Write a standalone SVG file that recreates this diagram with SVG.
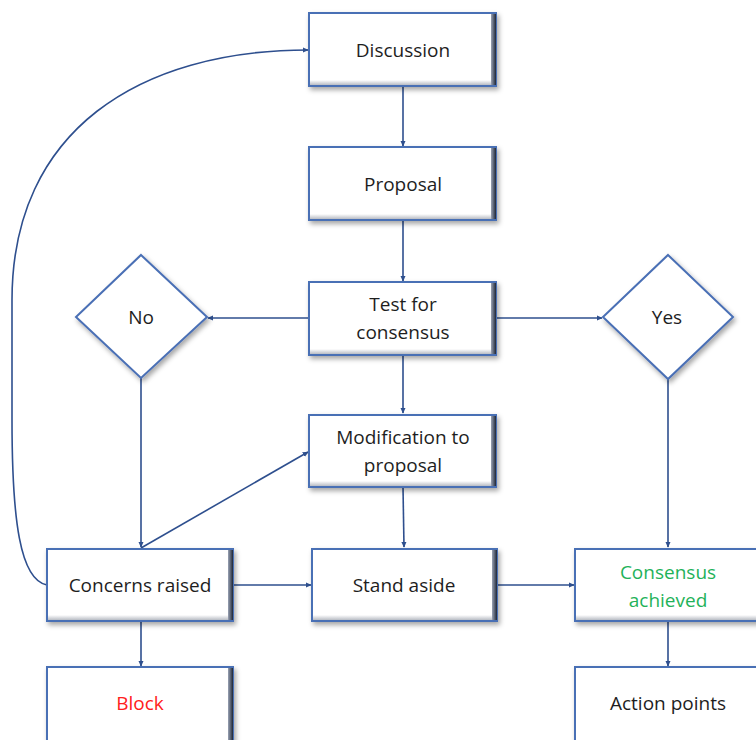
<svg xmlns="http://www.w3.org/2000/svg" width="756" height="740" viewBox="0 0 756 740">
<style>
.box{fill:#fff;stroke:#4a6fb5;stroke-width:2;filter:url(#sh)}
.dia{fill:#fff;stroke:#4a6fb5;stroke-width:2;filter:url(#sh)}
.bev{fill:url(#rg)}
.bevb{fill:url(#bg)}
text{font-family:"Open Sans","Liberation Sans",sans-serif;font-size:19px;fill:#1e1e1e;text-anchor:middle}
.c{fill:none;stroke:#2e4f8e;stroke-width:1.6}
</style>
<defs>
<filter id="sh" x="-10%" y="-10%" width="130%" height="140%">
<feDropShadow dx="2" dy="3" stdDeviation="2.5" flood-color="#000" flood-opacity="0.35"/>
</filter>
<linearGradient id="rg" x1="0" y1="0" x2="1" y2="0">
<stop offset="0" stop-color="#9aa3b5"/><stop offset="1" stop-color="#1d2535"/>
</linearGradient>
<linearGradient id="bg" x1="0" y1="0" x2="0" y2="1">
<stop offset="0" stop-color="#ffffff"/><stop offset="1" stop-color="#b8bcc4"/>
</linearGradient>
<marker id="ah" viewBox="0 0 8 8" refX="7" refY="4" markerWidth="6" markerHeight="6" orient="auto" markerUnits="userSpaceOnUse">
<path d="M0,0.5 L8,4 L0,7.5 z" fill="#2e4f8e"/>
</marker>
</defs>

<g id="connectors">
<path class="c" d="M403,86 L403,146" marker-end="url(#ah)"/>
<path class="c" d="M403,220 L403,281" marker-end="url(#ah)"/>
<path class="c" d="M309,318 L208,318" marker-end="url(#ah)"/>
<path class="c" d="M495,318 L602,318" marker-end="url(#ah)"/>
<path class="c" d="M403,355 L403,413" marker-end="url(#ah)"/>
<path class="c" d="M141,378 L141,547" marker-end="url(#ah)"/>
<path class="c" d="M141,548 L308,452" marker-end="url(#ah)"/>
<path class="c" d="M403,487 L404,547" marker-end="url(#ah)"/>
<path class="c" d="M233,585 L311,585" marker-end="url(#ah)"/>
<path class="c" d="M497,585 L574,585" marker-end="url(#ah)"/>
<path class="c" d="M668,379 L668,547" marker-end="url(#ah)"/>
<path class="c" d="M141,621 L141,666" marker-end="url(#ah)"/>
<path class="c" d="M668,621 L668,666" marker-end="url(#ah)"/>
<path class="c" d="M47,585 C 20,580 12,520 12,420 L12,300 C 12,130 140,50 308,50" marker-end="url(#ah)"/>
</g>

<g id="discussion">
<rect class="box" x="309" y="13" width="187" height="73"/>
<rect class="bevb" x="310" y="80" width="186" height="5"/>
<rect class="bev" x="491" y="14" width="5" height="71"/>
<text x="403" y="57">Discussion</text>
</g>
<g id="proposal">
<rect class="box" x="309" y="147" width="187" height="73"/>
<rect class="bevb" x="310" y="214" width="186" height="5"/>
<rect class="bev" x="491" y="148" width="5" height="71"/>
<text x="403" y="191">Proposal</text>
</g>
<g id="test">
<rect class="box" x="309" y="282" width="187" height="73"/>
<rect class="bevb" x="310" y="349" width="186" height="5"/>
<rect class="bev" x="491" y="283" width="5" height="71"/>
<text x="403" y="311">Test for</text>
<text x="403" y="339">consensus</text>
</g>
<g id="modification">
<rect class="box" x="309" y="415" width="187" height="72"/>
<rect class="bevb" x="310" y="481" width="186" height="5"/>
<rect class="bev" x="491" y="416" width="5" height="70"/>
<text x="403" y="444">Modification to</text>
<text x="403" y="472">proposal</text>
</g>
<g id="standaside">
<rect class="box" x="312" y="549" width="185" height="72"/>
<rect class="bevb" x="313" y="615" width="184" height="5"/>
<rect class="bev" x="492" y="550" width="5" height="70"/>
<text x="404" y="592">Stand aside</text>
</g>
<g id="concerns">
<rect class="box" x="47" y="549" width="186" height="72"/>
<rect class="bevb" x="48" y="615" width="185" height="5"/>
<rect class="bev" x="228" y="550" width="5" height="70"/>
<text x="140" y="592">Concerns raised</text>
</g>
<g id="block">
<rect class="box" x="47" y="667" width="186" height="76"/>
<rect class="bev" x="228" y="668" width="5" height="75"/>
<text x="140" y="710" style="fill:#ff2020">Block</text>
</g>
<g id="consensus">
<rect class="box" x="575" y="549" width="186" height="72"/>
<rect class="bevb" x="576" y="615" width="185" height="5"/>
<text x="668" y="579" style="fill:#1fb25a">Consensus</text>
<text x="668" y="607" style="fill:#1fb25a">achieved</text>
</g>
<g id="action">
<rect class="box" x="575" y="667" width="186" height="76"/>
<text x="668" y="710">Action points</text>
</g>
<g id="no">
<polygon class="dia" points="141,255 207,317 141,378 76,317"/>
<text x="141" y="324">No</text>
</g>
<g id="yes">
<polygon class="dia" points="668,255 733,317 668,379 603,317"/>
<text x="667" y="324">Yes</text>
</g>
</svg>
